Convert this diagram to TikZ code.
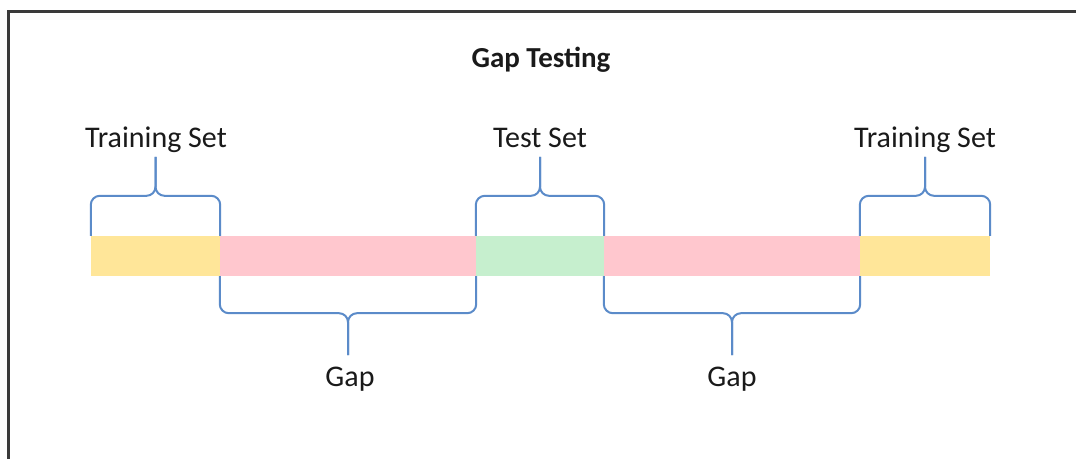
\documentclass[tikz,border=0pt]{standalone}
\usepackage{fontspec}
\setmainfont{Carlito}
\usetikzlibrary{calc}
\definecolor{barYellow}{HTML}{FFE699}
\definecolor{barPink}{HTML}{FFC7CE}
\definecolor{barGreen}{HTML}{C6EFCE}
\definecolor{braceBlue}{HTML}{5B8BC9}
\definecolor{frameGray}{HTML}{3A3A3A}
\definecolor{textDark}{HTML}{1A1A1A}
% bracket above a segment, stem pointing up to its label
\newcommand\bracketabove[1]{%
  \draw[bracket] (#1.north west) -- ($(#1.north west)+(0,-40)$) -- ($(#1.north)+(0,-40)$) -- ($(#1.north)+(0,-79)$);
  \draw[bracket] (#1.north east) -- ($(#1.north east)+(0,-40)$) -- ($(#1.north)+(0,-40)$) -- ($(#1.north)+(0,-79)$);}
% bracket below a segment, stem pointing down to its label
\newcommand\bracketbelow[1]{%
  \draw[bracket] (#1.south west) -- ($(#1.south west)+(0,37)$) -- ($(#1.south)+(0,37)$) -- ($(#1.south)+(0,79)$);
  \draw[bracket] (#1.south east) -- ($(#1.south east)+(0,37)$) -- ($(#1.south)+(0,37)$) -- ($(#1.south)+(0,79)$);}
\begin{document}
\begin{tikzpicture}[x=1pt,y=-1pt,
  seg/.style={rectangle, inner sep=0pt, minimum height=40pt},
  lbl/.style={font=\fontsize{30}{36}\selectfont, text=textDark, inner sep=0pt, anchor=base},
  bracket/.style={draw=braceBlue, line width=2pt, rounded corners=9pt}]
\useasboundingbox (0,0) rectangle (1076,458);
\fill[white] (0,0) rectangle (1076,458);
% outer frame (open to the right and bottom)
\draw[frameGray, line width=3pt] (8,470) -- (8,11) -- (1090,11);

% title
\node[lbl, font=\fontsize{29}{35}\selectfont\bfseries] (title) at (541,67) {Gap Testing};

% timeline segments
\node[seg, fill=barYellow, minimum width=129pt] (trainA) at (155.5,256) {};
\node[seg, fill=barPink,   minimum width=256pt] (gapA)   at (348,256) {};
\node[seg, fill=barGreen,  minimum width=128pt] (test)   at (540,256) {};
\node[seg, fill=barPink,   minimum width=256pt] (gapB)   at (732,256) {};
\node[seg, fill=barYellow, minimum width=130pt] (trainB) at (925,256) {};

% labels
\node[lbl] (lTrainA) at (156,147) {Training Set};
\node[lbl] (lTest)   at (540,147) {Test Set};
\node[lbl] (lTrainB) at (925,147) {Training Set};
\node[lbl] (lGapA)   at (350,386) {Gap};
\node[lbl] (lGapB)   at (732,386) {Gap};

% brackets
\bracketabove{trainA}
\bracketabove{test}
\bracketabove{trainB}
\bracketbelow{gapA}
\bracketbelow{gapB}
\end{tikzpicture}
\end{document}
